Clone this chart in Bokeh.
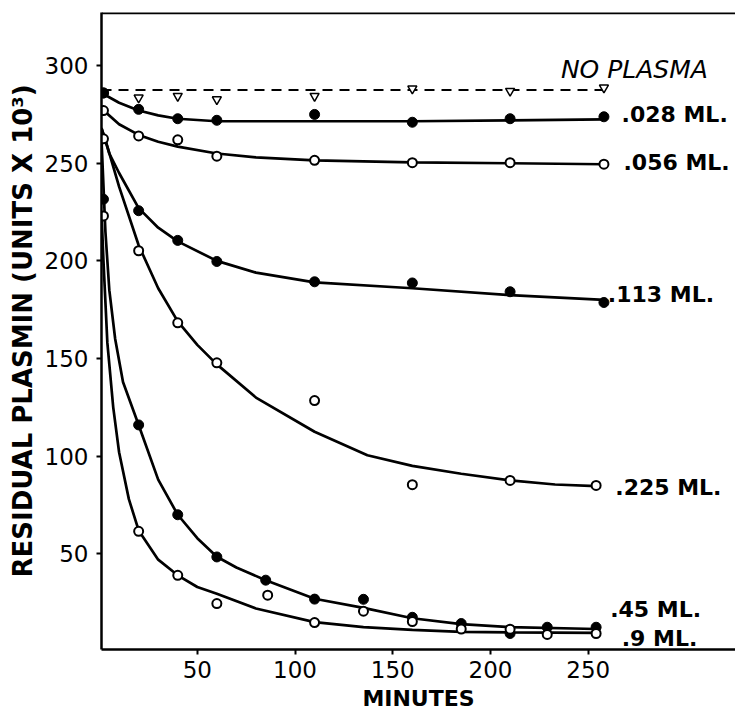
import math
from bokeh.plotting import figure
from bokeh.models import Label, Span
from bokeh.embed import file_html
from bokeh.resources import INLINE

# ---------------- data ----------------
x_ticks = [50, 100, 150, 200, 250]
y_ticks = [50, 100, 150, 200, 250, 300]

# No plasma control (triangles) and its dashed reference line
noplasma_t = [20, 40, 60, 110, 160, 210, 258]
noplasma_y = [283.6, 284.4, 282.7, 284.4, 288.2, 287.0, 288.7]
noplasma_line_t = [1, 258]
noplasma_line_y = [287.5, 287.5]

# .028 ML (filled)
s028_t = [2, 20, 40, 60, 110, 160, 210, 258]
s028_y = [286, 277.6, 272.8, 272.0, 275.0, 271.0, 272.8, 273.8]
c028_t = [1, 10, 20, 30, 40, 60, 110, 160, 210, 258]
c028_y = [286, 281, 277, 274.5, 272.8, 271.5, 271.5, 271.5, 272, 272.5]

# .056 ML (open)
s056_t = [2, 20, 40, 60, 110, 160, 210, 258]
s056_y = [277, 264, 262, 253.6, 251.5, 250.3, 250.3, 249.5]
c056_t = [1, 10, 20, 30, 40, 60, 80, 110, 160, 210, 258]
c056_y = [278, 270, 264.5, 261, 258.5, 255, 253, 251.5, 250.5, 250, 249.5]

# .113 ML (filled)
s113_t = [2, 20, 40, 60, 110, 160, 210, 258]
s113_y = [286, 225.7, 210.5, 199.7, 189.3, 188.7, 184.2, 178.7]
c113_t = [1, 5, 10, 20, 30, 40, 60, 80, 110, 160, 210, 258]
c113_y = [268, 255, 245, 227, 217, 210, 200, 194, 189, 186, 182.5, 180]

# .225 ML (open)
s225_t = [2, 20, 40, 60, 110, 160, 210, 254]
s225_y = [262.5, 205.2, 168.3, 147.8, 128.5, 85.4, 87.6, 85.0]
c225_t = [1, 3, 10, 20, 30, 40, 50, 60, 80, 110, 137, 160, 185, 210, 233, 254]
c225_y = [268, 262, 238, 208, 186, 169, 157, 147, 130, 112.5, 100.5, 95, 91, 87.6, 85.5, 84.7]

# .45 ML (filled)
s45_t = [2, 20, 40, 60, 85, 110, 135, 160, 185, 210, 229, 254]
s45_y = [231.6, 116.0, 70.0, 48.4, 36.5, 26.8, 26.7, 17.5, 14.3, 9.2, 12.4, 12.4]
c45_t = [1, 3, 5, 8, 12, 20, 30, 40, 50, 60, 70, 85, 110, 135, 160, 185, 210, 254]
c45_y = [262, 215, 185, 160, 138, 116, 88, 70, 58, 48.5, 43, 36.5, 27, 22.3, 17, 14, 12.5, 11.5]

# .9 ML (open)
s9_t = [2, 20, 40, 60, 86, 110, 135, 160, 185, 210, 229, 254]
s9_y = [223, 61.5, 39.0, 24.5, 28.8, 14.8, 20.6, 15.3, 11.5, 11.4, 8.7, 9.2]
c9_t = [1, 2, 4, 7, 10, 15, 20, 30, 40, 50, 60, 80, 110, 135, 160, 185, 210, 254]
c9_y = [225, 200, 158, 125, 102, 78, 62, 47, 39, 33, 29.5, 22, 15, 12.5, 11, 10, 9.8, 9.5]

series_labels = [".028 ML.", ".056 ML.", ".113 ML.", ".225 ML.", ".45 ML.", ".9 ML."]
label_t = [267.0, 268.0, 260.0, 263.8, 261.2, 267.1]
label_y = [275.0, 250.5, 183.0, 84.2, 21.6, 6.6]

# ---------------- figure ----------------
FONT = "DejaVu Sans"
p = figure(width=735, height=713, x_range=(1, 325.3), y_range=(1.0, 327.2),
           output_backend="svg", toolbar_location=None,
           min_border_left=101, min_border_right=0, min_border_top=12, min_border_bottom=63)
p.outline_line_color = None
p.xgrid.visible = False
p.ygrid.visible = False
p.background_fill_color = "white"
p.border_fill_color = "white"

for ax in (p.xaxis, p.yaxis):
    ax.axis_line_width = 2.5
    ax.axis_line_color = "black"
    ax.major_tick_line_color = "black"
    ax.major_tick_line_width = 2
    ax.major_tick_in = 0
    ax.major_tick_out = 5
    ax.minor_tick_line_color = None
    ax.major_label_text_font = FONT
    ax.major_label_text_font_size = "23px"
    ax.major_label_text_color = "black"
    ax.axis_label_text_font = FONT
    ax.axis_label_text_font_style = "bold"
    ax.axis_label_text_color = "black"
p.xaxis.ticker = x_ticks
p.yaxis.ticker = y_ticks

p.xaxis.major_label_standoff = 6
p.xaxis.axis_label = "MINUTES"
p.xaxis.axis_label_text_font_size = "22px"
p.xaxis.axis_label_standoff = 5

p.yaxis.major_label_standoff = 8
p.yaxis.axis_label = "RESIDUAL PLASMIN (UNITS X 10³)"
p.yaxis.axis_label_text_font_size = "26px"
p.yaxis.axis_label_standoff = 4

# top border line
p.add_layout(Span(location=327.0, dimension="width", line_color="black", line_width=2.5))

# curves
for ct, cy in [(c028_t, c028_y), (c056_t, c056_y), (c113_t, c113_y),
               (c225_t, c225_y), (c45_t, c45_y), (c9_t, c9_y)]:
    p.line(ct, cy, line_color="black", line_width=2.7)

# no-plasma dashed line and triangles
p.line(noplasma_line_t, noplasma_line_y, line_color="black", line_width=2, line_dash="10 7")
p.scatter(noplasma_t, noplasma_y, marker="inverted_triangle", size=9,
          fill_color="white", line_color="black", line_width=1.5)

# filled points
for st, sy in [(s028_t, s028_y), (s113_t, s113_y), (s45_t, s45_y)]:
    p.scatter(st, sy, marker="circle", size=10, fill_color="black", line_color="black")
# open points
for st, sy in [(s056_t, s056_y), (s225_t, s225_y), (s9_t, s9_y)]:
    p.scatter(st, sy, marker="circle", size=9, fill_color="white", line_color="black", line_width=2)

# series labels
for txt, lt, ly in zip(series_labels, label_t, label_y):
    p.add_layout(Label(x=lt, y=ly, text=txt, text_font=FONT, text_font_size="22px",
                       text_font_style="bold", text_baseline="middle", text_align="left",
                       text_color="black"))

p.add_layout(Label(x=236, y=298, text="NO PLASMA", text_font=FONT, text_font_size="25px",
                   text_font_style="italic", text_baseline="middle", text_align="left",
                   text_color="black"))

open("out.html", "w").write(file_html(p, INLINE))
